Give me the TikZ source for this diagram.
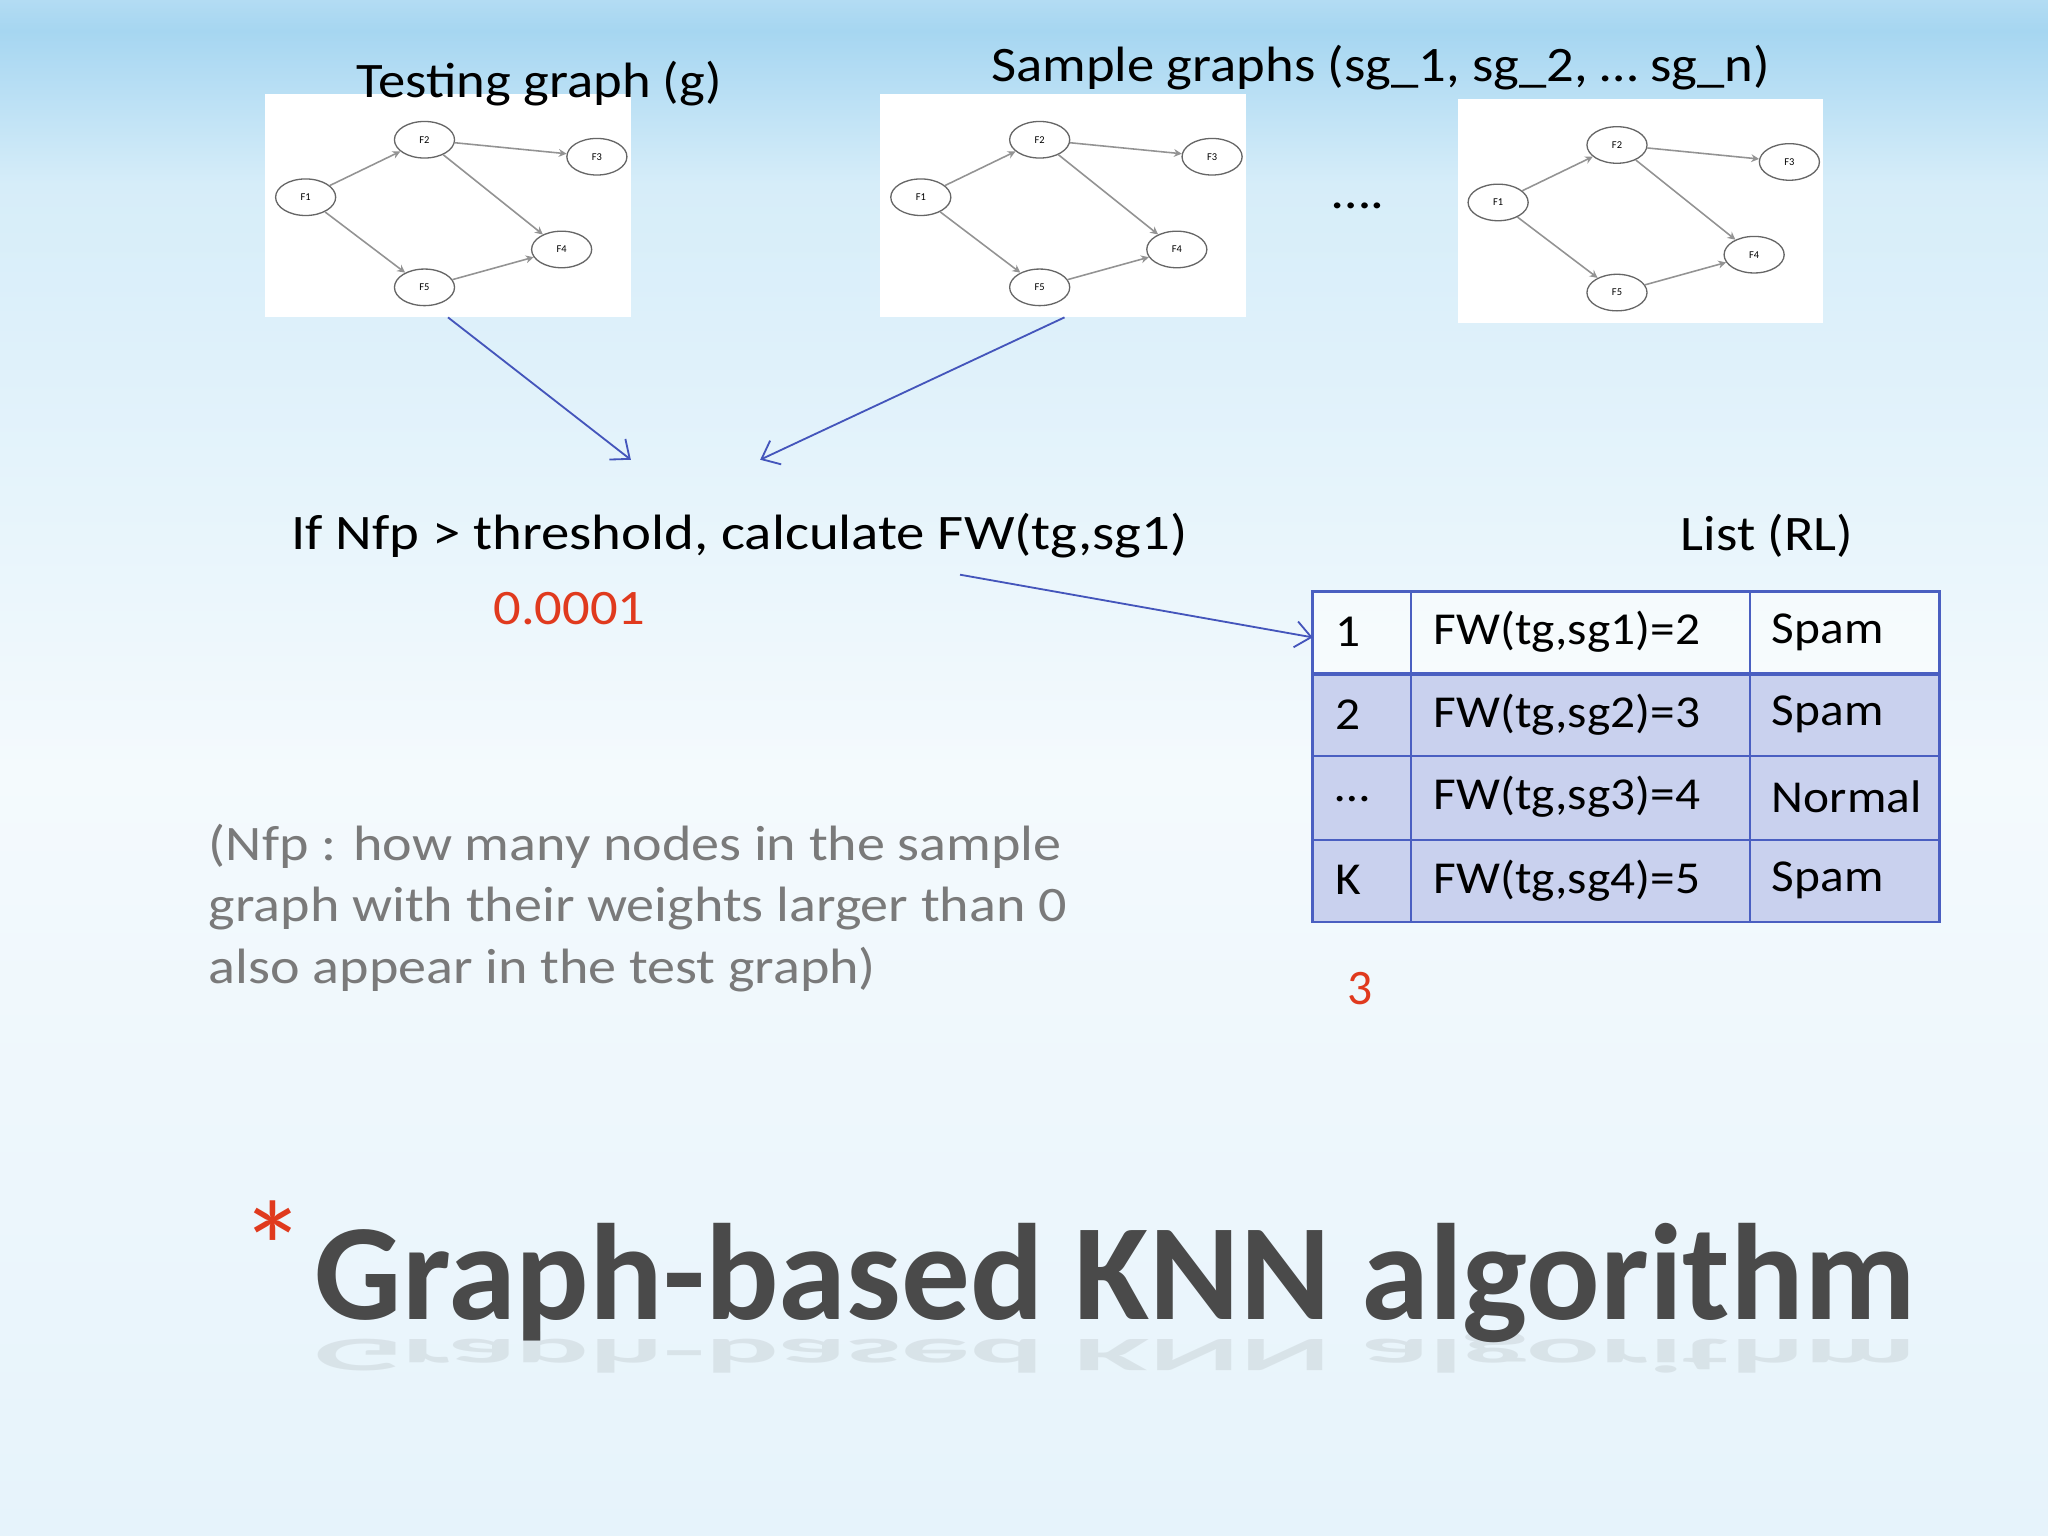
\documentclass[tikz,border=0pt]{standalone}
\usepackage{fontspec}
\setmainfont{Carlito}
\usetikzlibrary{arrows.meta,shapes.geometric}
\definecolor{b1}{HTML}{BFE0F5}
\definecolor{b2}{HTML}{E6F3FB}
\definecolor{b3}{HTML}{F4FAFD}
\definecolor{b4}{HTML}{D6EDF9}
\definecolor{b5}{HTML}{A6D6F1}
\definecolor{b6}{HTML}{CDE8F7}
\definecolor{b7}{HTML}{F7FCFE}
\definecolor{b8}{HTML}{D2EBF8}
\pgfdeclareverticalshading{bg}{100bp}{
 color(0bp)=(b1); color(25bp)=(b2); color(50bp)=(b3); color(69bp)=(b4);
 color(74bp)=(b5); color(77bp)=(b6); color(94bp)=(b7); color(100bp)=(b8)}
\definecolor{arr}{HTML}{4455BB}
\definecolor{tbl}{HTML}{4A5FC1}
\definecolor{cellb}{HTML}{C9D1EE}
\definecolor{redt}{HTML}{E03A1E}
\definecolor{grayt}{HTML}{7A7A7A}
\definecolor{titlec}{HTML}{4A4A4A}
\tikzset{
 fn/.style={draw=gray!80!black, ellipse, minimum width=23pt, minimum height=14pt, inner sep=0pt, font=\fontsize{4}{4}\selectfont, line width=0.5pt},
 ge/.style={draw=gray!85, line width=0.6pt, -{Stealth[length=3pt,width=3pt]}},
 ba/.style={draw=arr, line width=0.7pt, -{Straight Barb[length=6pt,width=10pt]}},
 hd/.style={font=\fontsize{19}{20}\selectfont, text=black, xscale=1.1},
 cell/.style={font=\fontsize{17.5}{18}\selectfont, anchor=west, xscale=1.08},
}
\newcommand{\smallgraph}[3]{%
 \begin{scope}[shift={(#1,#2)}]
 \fill[white] (203,72) rectangle (483,243);
 \node[fn] (#3a) at (234,151) {F1};
 \node[fn] (#3b) at (325,107) {F2};
 \node[fn] (#3c) at (457,120) {F3};
 \node[fn] (#3d) at (430,191) {F4};
 \node[fn] (#3e) at (325,220) {F5};
 \draw[ge] (#3a) -- (#3b);
 \draw[ge] (#3a) -- (#3e);
 \draw[ge] (#3b) -- (#3c);
 \draw[ge] (#3b) -- (#3d);
 \draw[ge] (#3e) -- (#3d);
 \end{scope}}
\begin{document}
\begin{tikzpicture}[x=0.5pt,y=-0.5pt]
\useasboundingbox (0,0) rectangle (1568,1176);
\shade[shading=bg] (0,0) rectangle (1568,1176);
\smallgraph{0}{0}{g}
\smallgraph{471}{0}{s}
\smallgraph{913}{4}{t}
\node[hd] (tg) at (413,64) {Testing graph (g)};
\node[hd] (sg) at (1057,52) {Sample graphs (sg\_1, sg\_2, … sg\_n)};
\node[hd] (dots) at (1040,158) {….};
\coordinate (a1s) at (343,243); \coordinate (a1e) at (483,352);
\coordinate (a2s) at (815,243); \coordinate (a2e) at (582,352);
\draw[ba] (a1s) -- (a1e);
\draw[ba] (a2s) -- (a2e);
\node[hd, xscale=1.04] (cond) at (566,410) {If Nfp > threshold, calculate FW(tg,sg1)};
\node[font=\fontsize{19}{20}\selectfont, text=redt, xscale=1.1] (thr) at (436,466) {0.0001};
\node[hd] (list) at (1353,410) {List (RL)};
% table
\fill[white,opacity=0.5] (1005,453) rectangle (1485,516);
\fill[cellb] (1005,516) rectangle (1485,706);
\draw[tbl,line width=1pt] (1005,453) rectangle (1485,706);
\foreach \y in {579,643} \draw[tbl,line width=0.8pt] (1005,\y) -- (1485,\y);
\draw[tbl,line width=1.8pt] (1005,516) -- (1485,516);
\foreach \x in {1080,1340} \draw[tbl,line width=0.8pt] (\x,453) -- (\x,706);
\node[cell] (c11) at (1015,484) {1};
\node[cell] (c12) at (1090,484) {FW(tg,sg1)=2};
\node[cell] (c13) at (1349,484) {Spam};
\node[cell] (c21) at (1015,547) {2};
\node[cell] (c22) at (1090,547) {FW(tg,sg2)=3};
\node[cell] (c23) at (1349,547) {Spam};
\node[cell] (c31) at (1015,612) {…};
\node[cell] (c32) at (1090,610) {FW(tg,sg3)=4};
\node[cell] (c33) at (1349,610) {Normal};
\node[cell] (c41) at (1015,674) {K};
\node[cell] (c42) at (1090,674) {FW(tg,sg4)=5};
\node[cell] (c43) at (1349,674) {Spam};
\coordinate (a3s) at (735,440); \coordinate (a3e) at (1005,488);
\draw[ba] (a3s) -- (a3e);
\node[font=\fontsize{19}{20}\selectfont, text=redt] (k3) at (1041,757) {3};
\node[font=\fontsize{19}{23.5}\selectfont, text=grayt, align=left, anchor=north west, xscale=1.13] (note) at (152,624)
 {(Nfp : how many nodes in the sample\\graph with their weights larger than 0\\also appear in the test graph)};
% title
\node[font=\bfseries\fontsize{52.5}{54}\selectfont, text=titlec, anchor=west] (title) at (234,982) {Graph-based KNN algorithm};
\node[font=\bfseries\fontsize{52.5}{54}\selectfont, text=titlec, anchor=west, yscale=-0.35, opacity=0.1] (refl) at (234,1035) {Graph-based KNN algorithm};
\node[font=\fontsize{50}{50}\selectfont, text=redt] (ast) at (209,955) {*};
\end{tikzpicture}
\end{document}
